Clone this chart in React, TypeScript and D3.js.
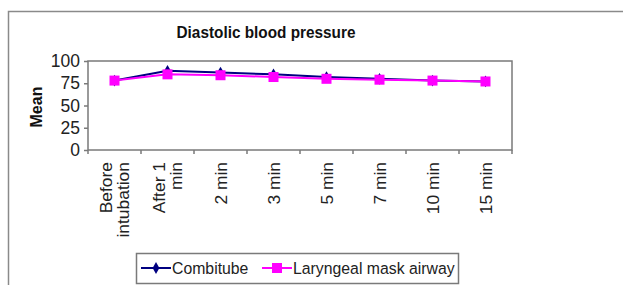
import React, { useEffect, useRef } from "react";
import * as d3 from "d3";

const categories = [
  ["Before", "intubation"],
  ["After 1", "min"],
  ["2 min"],
  ["3 min"],
  ["5 min"],
  ["7 min"],
  ["10 min"],
  ["15 min"],
];
const combitube = [78, 89, 87, 85, 82, 80, 78, 77];
const lma = [78, 85, 84, 82, 80, 79, 78, 77];
const yTicks = [0, 25, 50, 75, 100];

const App = () => {
  const svgRef = useRef<SVGSVGElement>(null);

  useEffect(() => {
    const W = 623;
    const H = 285;
    const font = "'Liberation Sans', Arial, sans-serif";
    const plot = { left: 88, right: 512, top: 61, bottom: 150 };

    const svg = d3.select(svgRef.current).attr("width", W).attr("height", H);
    svg.selectAll("*").remove();

    svg.append("rect").attr("width", W).attr("height", H).attr("fill", "#fff");
    // outer frame
    svg
      .append("rect")
      .attr("x", 8.5)
      .attr("y", 11.5)
      .attr("width", 630)
      .attr("height", 300)
      .attr("fill", "none")
      .attr("stroke", "#8a8a8a")
      .attr("stroke-width", 1.5);

    const keys = categories.map((_, i) => String(i));
    const x = d3.scaleBand().domain(keys).range([plot.left, plot.right]);
    const y = d3.scaleLinear().domain([0, 100]).range([plot.bottom, plot.top]);

    svg
      .append("text")
      .attr("transform", "translate(266,38) scale(0.93,1)")
      .attr("text-anchor", "middle")
      .attr("font-family", font)
      .attr("font-weight", "bold")
      .attr("font-size", 16.5)
      .attr("fill", "#111")
      .text("Diastolic blood pressure");

    // plot border
    svg
      .append("rect")
      .attr("x", plot.left)
      .attr("y", plot.top)
      .attr("width", plot.right - plot.left)
      .attr("height", plot.bottom - plot.top)
      .attr("fill", "none")
      .attr("stroke", "#7a7a7a")
      .attr("stroke-width", 1.5);

    // y axis
    const yAxis = svg
      .append("g")
      .attr("transform", `translate(${plot.left},0)`)
      .call(d3.axisLeft(y).tickValues(yTicks).tickSize(4).tickPadding(4));
    yAxis.select(".domain").remove();
    yAxis.selectAll("line").attr("stroke", "#7a7a7a").attr("stroke-width", 1.5);
    yAxis
      .selectAll("text")
      .attr("font-family", font)
      .attr("font-size", 17.5)
      .attr("fill", "#222");

    // x ticks at band boundaries
    const bounds = keys.map((k) => x(k) as number).concat([plot.right]);
    svg
      .append("g")
      .selectAll("line")
      .data(bounds)
      .enter()
      .append("line")
      .attr("x1", (d) => d)
      .attr("x2", (d) => d)
      .attr("y1", plot.bottom)
      .attr("y2", plot.bottom + 4)
      .attr("stroke", "#7a7a7a")
      .attr("stroke-width", 1.5);

    // x labels rotated
    const lineH = 17;
    categories.forEach((lines, i) => {
      const cx = (x(String(i)) as number) + x.bandwidth() / 2;
      const t = svg
        .append("text")
        .attr("transform", `translate(${cx},${plot.bottom + 12}) rotate(-90) scale(1.09,1)`)
        .attr("text-anchor", "end")
        .attr("font-family", font)
        .attr("font-size", 16)
        .attr("fill", "#222");
      lines.forEach((l, j) => {
        const off = (j - (lines.length - 1) / 2) * lineH + 6;
        t.append("tspan").attr("x", 0).attr("y", off).text(l);
      });
    });

    svg
      .append("text")
      .attr("transform", `translate(42,107) rotate(-90)`)
      .attr("text-anchor", "middle")
      .attr("font-family", font)
      .attr("font-weight", "bold")
      .attr("font-size", 16)
      .attr("fill", "#111")
      .text("Mean");

    const cxOf = (i: number) => (x(String(i)) as number) + x.bandwidth() / 2;
    const line = d3
      .line<number>()
      .x((_, i) => cxOf(i))
      .y((d) => y(d));

    svg
      .append("path")
      .attr("d", line(combitube))
      .attr("fill", "none")
      .attr("stroke", "#000080")
      .attr("stroke-width", 2);
    svg
      .append("g")
      .selectAll("path")
      .data(combitube)
      .enter()
      .append("path")
      .attr("d", d3.symbol().type(d3.symbolDiamond).size(40)())
      .attr("transform", (d, i) => `translate(${cxOf(i)},${y(d)})`)
      .attr("fill", "#000080");

    svg
      .append("path")
      .attr("d", line(lma))
      .attr("fill", "none")
      .attr("stroke", "#ff00ff")
      .attr("stroke-width", 2);
    svg
      .append("g")
      .selectAll("rect")
      .data(lma)
      .enter()
      .append("rect")
      .attr("x", (d, i) => cxOf(i) - 5)
      .attr("y", (d) => y(d) - 5)
      .attr("width", 10)
      .attr("height", 10)
      .attr("fill", "#ff00ff");

    // legend
    const lg = svg.append("g");
    lg.append("rect")
      .attr("x", 136.5)
      .attr("y", 253.5)
      .attr("width", 322)
      .attr("height", 30)
      .attr("fill", "#fff")
      .attr("stroke", "#7a7a7a")
      .attr("stroke-width", 1.5);
    const items = [
      { name: "Combitube", color: "#000080", x: 141, type: "diamond" },
      { name: "Laryngeal mask airway", color: "#ff00ff", x: 262, type: "square" },
    ];
    items.forEach((it) => {
      lg.append("line")
        .attr("x1", it.x)
        .attr("x2", it.x + 30)
        .attr("y1", 268)
        .attr("y2", 268)
        .attr("stroke", it.color)
        .attr("stroke-width", 2);
      if (it.type === "diamond") {
        lg.append("path")
          .attr("d", d3.symbol().type(d3.symbolDiamond).size(40)())
          .attr("transform", `translate(${it.x + 15},268)`)
          .attr("fill", it.color);
      } else {
        lg.append("rect")
          .attr("x", it.x + 10)
          .attr("y", 263)
          .attr("width", 10)
          .attr("height", 10)
          .attr("fill", it.color);
      }
      lg.append("text")
        .attr("transform", `translate(${it.x + 31},274) scale(0.93,1)`)
        .attr("font-family", font)
        .attr("font-size", 17)
        .attr("fill", "#222")
        .text(it.name);
    });
  }, []);

  return (
    <div style={{ position: "absolute", left: 0, top: 0 }}>
      <svg ref={svgRef} style={{ display: "block" }}></svg>
    </div>
  );
};

export default App;
